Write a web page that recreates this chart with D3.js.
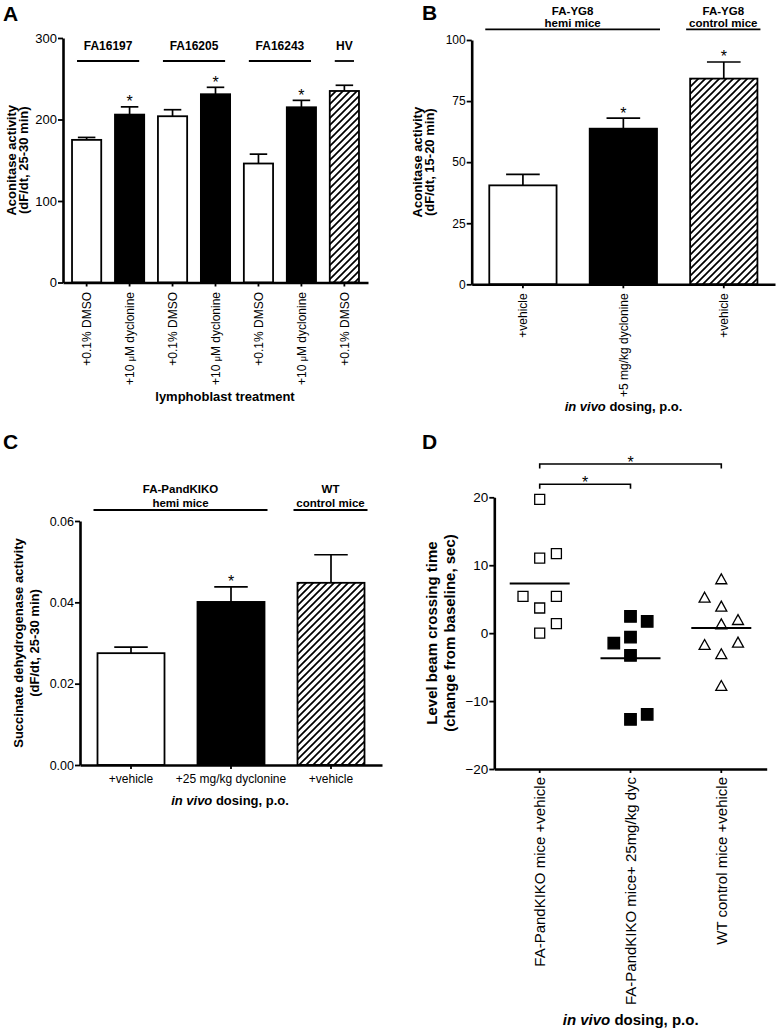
<!DOCTYPE html>
<html>
<head>
<meta charset="utf-8">
<script src="https://cdn.jsdelivr.net/npm/d3@7"></script>
<style>
body{margin:0;background:#fff}
text{font-family:"Liberation Sans",Arial,Helvetica,sans-serif;fill:#000}
</style>
</head>
<body>
<script>
// ---- panel A : lymphoblasts
var aLabels = ["+0.1% DMSO","+10 μM dyclonine","+0.1% DMSO","+10 μM dyclonine","+0.1% DMSO","+10 μM dyclonine","+0.1% DMSO"]
var aTreat = ["vehicle","drug","vehicle","drug","vehicle","drug","control"]
var aMeans = [175, 206, 204, 231, 146, 215, 235]
var aSem = [3, 9.5, 8, 8.5, 11.5, 8.5, 7]
var aSig = [false, true, false, true, false, true, false]
var aGroups = [{name:["FA16197"],from:0,to:1},{name:["FA16205"],from:2,to:3},{name:["FA16243"],from:4,to:5},{name:["HV"],from:6,to:6}]
var aTicks = [0,100,200,300]

// ---- panel B : FA-YG8 mice
var bLabels = ["+vehicle","+5 mg/kg dyclonine","+vehicle"]
var bTreat = ["vehicle","drug","control"]
var bMeans = [40.5, 63.7, 84.2]
var bSem = [4.5, 4.3, 6.8]
var bSig = [false, true, true]
var bGroups = [{name:["FA-YG8","hemi mice"],from:0,to:1},{name:["FA-YG8","control mice"],from:2,to:2}]
var bTicks = [0,25,50,75,100]

// ---- panel C : FA-PandKIKO SDH
var cLabels = ["+vehicle","+25 mg/kg dyclonine","+vehicle"]
var cTreat = ["vehicle","drug","control"]
var cMeans = [0.0275, 0.0401, 0.0448]
var cSem = [0.0015, 0.0037, 0.0069]
var cSig = [false, true, false]
var cGroups = [{name:["FA-PandKIKO","hemi mice"],from:0,to:1},{name:["WT","control mice"],from:2,to:2}]
var cTicks = [0,0.02,0.04,0.06]

// ---- panel D : beam crossing, individual animals
var dNames = ["FA-PandKIKO mice +vehicle","FA-PandKIKO mice+ 25mg/kg dyc","WT control mice +vehicle"]
var dVehicle = [19.7, 11.05, 11.7, 5.4, 5.4, 3.7, 1.4, 0.0]
var dVehicleLane = [0, 0, 1, -1, 1, 0, 1, 0]
var dDrug = [2.46, 1.72, -1.47, -0.59, -3.28, -12.7, -11.97]
var dDrugLane = [0, 1, -1, 0, 0, 0, 1]
var dWT = [8.0, 5.3, 3.98, 2.0, 1.38, -1.66, -1.32, -3.03, -7.7]
var dWTLane = [0, -1, 0, 1, 0, -1, 1, 0, 0]
var dComparisons = [[0,1],[0,2]]
var dTicks = [-20,-10,0,10,20]

var svg = d3.select("body").append("svg").attr("width",777).attr("height",1030)

svg.append("defs").append("pattern").attr("id","hatch")
   .attr("patternUnits","userSpaceOnUse").attr("width",7).attr("height",7)
   .append("path").attr("d","M-1,1 l2,-2 M0,7 l7,-7 M6,8 l2,-2")
   .attr("stroke","#000").attr("stroke-width",1.7)

var fillFor = d3.scaleOrdinal().domain(["vehicle","drug","control"]).range(["#fff","#000","url(#hatch)"])

var letter = function(s,x,y){
  svg.append("text").attr("x",x).attr("y",y).style("font-size","21px").style("font-weight","bold").text(s)
}

var yTitle = function(g,lines,xs,cy,fs){
  lines.forEach(function(l,i){
    g.append("text").attr("transform","translate("+xs[i]+","+cy+") rotate(-90)")
     .attr("text-anchor","middle").style("font-size",fs+"px").style("font-weight","bold").text(l)
  })
}

var xTitle = function(g,x,y,fs,italic,rest){
  var t = g.append("text").attr("x",x).attr("y",y).attr("text-anchor","middle")
           .style("font-size",fs+"px").style("font-weight","bold")
  if (italic) t.append("tspan").style("font-style","italic").text(italic)
  t.append("tspan").text(rest)
}

var styleAxis = function(ax,fs){
  ax.attr("font-family",null).attr("font-size",null)
  ax.select(".domain").attr("stroke-width",2.6)
  ax.selectAll(".tick line").attr("stroke-width",1.8)
  ax.selectAll(".tick text").style("font-size",fs+"px")
}

var drawBars = function(p){
  var g = svg.append("g")
  var x = d3.scaleBand().domain(d3.range(p.means.length)).range([p.x0,p.x1])
            .paddingInner(p.pin).paddingOuter(p.pout)
  var y = d3.scaleLinear().domain([0,p.max]).range([p.y0,p.y1])
  var bw = x.bandwidth()

  g.selectAll("rect.bar").data(p.means).join("rect").attr("class","bar")
   .attr("x",function(d,i){return x(i)}).attr("width",bw)
   .attr("y",function(d){return y(d)}).attr("height",function(d){return y(0)-y(d)})
   .attr("fill",function(d,i){return fillFor(p.treat[i])})
   .attr("stroke","#000").attr("stroke-width",1.8)

  // upper error bars only
  var eb = g.selectAll("g.err").data(p.means).join("g").attr("class","err")
  eb.append("line")
    .attr("x1",function(d,i){return x(i)+bw/2}).attr("x2",function(d,i){return x(i)+bw/2})
    .attr("y1",function(d){return y(d)}).attr("y2",function(d,i){return y(d+p.sem[i])})
    .attr("stroke","#000").attr("stroke-width",1.7)
  eb.append("line")
    .attr("x1",function(d,i){return x(i)+bw/2-bw*p.cap/2}).attr("x2",function(d,i){return x(i)+bw/2+bw*p.cap/2})
    .attr("y1",function(d,i){return y(d+p.sem[i])}).attr("y2",function(d,i){return y(d+p.sem[i])})
    .attr("stroke","#000").attr("stroke-width",1.7)

  var starred = d3.range(p.means.length).filter(function(i){return p.sig[i]})
  g.selectAll("text.star").data(starred).join("text").attr("class","star").attr("text-anchor","middle")
   .attr("x",function(i){return x(i)+bw/2}).attr("y",function(i){return y(p.means[i]+p.sem[i])+0.5})
   .style("font-size","16px").text("*")

  var ya = g.append("g").attr("transform","translate("+p.x0+",0)")
     .call(d3.axisLeft(y).tickValues(p.ticks).tickFormat(p.fmt).tickSize(5).tickSizeOuter(0).tickPadding(1))
  styleAxis(ya,p.yFs)

  var xa = g.append("g").attr("transform","translate(0,"+p.y0+")")
     .call(d3.axisBottom(x).tickSize(4).tickSizeOuter(0).tickPadding(p.xPad || 3).tickFormat(function(i){return p.labels[i]}))
  styleAxis(xa,p.xFs)
  xa.selectAll(".tick text").each(function(i){
    var parts = p.labels[i].split("μ"), t = d3.select(this)
    if (parts.length > 1){
      t.text(parts[0])
      t.append("tspan").style("font-size",(p.xFs*0.75)+"px").text("μ")
      t.append("tspan").text(parts[1])
    }
  })
  if (p.rotate){
    xa.selectAll(".tick text").attr("transform","rotate(-90)")
      .attr("x",-p.labGap).attr("y",0).attr("dy","0.35em").attr("text-anchor","end")
  }

  // group headers
  p.groups.forEach(function(gr){
    var l = x(gr.from)+p.lineIn[0], r = x(gr.to)+bw-p.lineIn[1]
    g.append("line").attr("x1",l).attr("x2",r).attr("y1",p.lineY).attr("y2",p.lineY)
     .attr("stroke","#000").attr("stroke-width",1.8)
    gr.name.forEach(function(n,k){
      g.append("text").attr("x",(l+r)/2).attr("y",p.headY[k]).attr("text-anchor","middle")
       .style("font-size",p.headFs+"px").style("font-weight","bold").text(n)
    })
  })

  yTitle(g,p.yTitle,p.yTitleX,(p.y0+p.y1)/2,13)
  xTitle(g,p.xTitle[0],p.xTitle[1],13,p.xTitle[2],p.xTitle[3])
}

// panel A
drawBars({means:aMeans,sem:aSem,sig:aSig,treat:aTreat,labels:aLabels,groups:aGroups,ticks:aTicks,
  fmt:d3.format("d"),max:300,x0:63,x1:368,y0:282.5,y1:38,pin:0.32,pout:0.21,cap:0.6,
  yFs:13,xFs:12,rotate:true,labGap:9.5,lineY:61,lineIn:[5,5],headY:[50],headFs:12,
  yTitle:["Aconitase activity","(dF/dt, 25-30 min)"],yTitleX:[15.5,28],
  xTitle:[225,401,null,"lymphoblast treatment"]})
letter("A",3,21)

// panel B
drawBars({means:bMeans,sem:bSem,sig:bSig,treat:bTreat,labels:bLabels,groups:bGroups,ticks:bTicks,
  fmt:d3.format("d"),max:100,x0:471.7,x1:775,y0:284.3,y1:40,pin:0.33,pout:0.175,cap:0.5,
  yFs:12,xFs:12,rotate:true,labGap:9,lineY:29.3,lineIn:[-4,-3],headY:[15,26.5],headFs:11.5,
  yTitle:["Aconitase activity","(dF/dt, 15-20 min)"],yTitleX:[421.5,434],
  xTitle:[623.5,411,"in vivo"," dosing, p.o."]})
letter("B",422,20)

// panel C
drawBars({means:cMeans,sem:cSem,sig:cSig,treat:cTreat,labels:cLabels,groups:cGroups,ticks:cTicks,
  fmt:d3.format(".2f"),max:0.06,x0:80,x1:382,y0:765,y1:521,pin:0.33,pout:0.175,cap:0.5,
  yFs:12.5,xFs:12,rotate:false,xPad:5.5,lineY:510,lineIn:[-4,-3],headY:[493,507],headFs:11.5,
  yTitle:["Succinate dehydrogenase activity","(dF/dt, 25-30 min)"],yTitleX:[23,39],
  xTitle:[230,805,"in vivo"," dosing, p.o."]})
letter("C",3,449)

// panel D
var drawScatter = function(){
  var g = svg.append("g")
  var x = d3.scaleBand().domain(d3.range(3)).range([494.3,766.7])
  var y = d3.scaleLinear().domain([-20,20]).range([769,497.3])
  var lane = d3.scaleLinear().domain([-1,1]).range([-16.7,16.7])
  var cx = function(i){return x(i)+x.bandwidth()/2}

  var triangle = {draw:function(ctx,size){var w=size/2;ctx.moveTo(0,-w*0.9);ctx.lineTo(w,w*0.9);ctx.lineTo(-w,w*0.9);ctx.closePath()}}
  var groups = [
    {vals:dVehicle,lanes:dVehicleLane,sym:d3.symbol(d3.symbolSquare,100),fill:"#fff"},
    {vals:dDrug,lanes:dDrugLane,sym:d3.symbol(d3.symbolSquare,132),fill:"#000"},
    {vals:dWT,lanes:dWTLane,sym:d3.symbol(triangle,11),fill:"#fff"}
  ]

  groups.forEach(function(gr,gi){
    g.selectAll("path.pt"+gi).data(gr.vals).join("path").attr("class","pt"+gi)
     .attr("d",gr.sym)
     .attr("transform",function(d,i){return "translate("+(cx(gi)+lane(gr.lanes[i]))+","+y(d)+")"})
     .attr("fill",gr.fill).attr("stroke","#000").attr("stroke-width",1.3)
    var m = d3.mean(gr.vals)
    g.append("line").attr("x1",cx(gi)-30).attr("x2",cx(gi)+30).attr("y1",y(m)).attr("y2",y(m))
     .attr("stroke","#000").attr("stroke-width",2)
  })

  // significance brackets
  var level = d3.scaleLinear().domain([1,2]).range([484.3,464])
  dComparisons.forEach(function(c,k){
    var by = level(k+1)
    g.append("path").attr("d","M"+cx(c[0])+","+(by+4.5)+"V"+by+"H"+cx(c[1])+"V"+(by+4.5))
     .attr("fill","none").attr("stroke","#000").attr("stroke-width",1.6)
    g.append("text").attr("x",(cx(c[0])+cx(c[1]))/2).attr("y",by+4).attr("text-anchor","middle")
     .style("font-size","16px").text("*")
  })

  var ya = g.append("g").attr("transform","translate(494.3,0)")
     .call(d3.axisLeft(y).tickValues(dTicks).tickSize(5).tickSizeOuter(0).tickPadding(1))
  styleAxis(ya,13.5)
  var xa = g.append("g").attr("transform","translate(0,769)")
     .call(d3.axisBottom(x).tickSize(4).tickSizeOuter(0).tickFormat(function(i){return dNames[i]}))
  styleAxis(xa,15)
  xa.selectAll(".tick text").attr("transform","rotate(-90)")
    .attr("x",-8).attr("y",0).attr("dy","0.35em").attr("text-anchor","end")

  yTitle(g,["Level beam crossing time","(change from baseline, sec)"],[437,455],633,15)
  xTitle(g,630.7,1025,15,"in vivo"," dosing, p.o.")
}
drawScatter()
letter("D",422,449)
</script>
</body>
</html>
